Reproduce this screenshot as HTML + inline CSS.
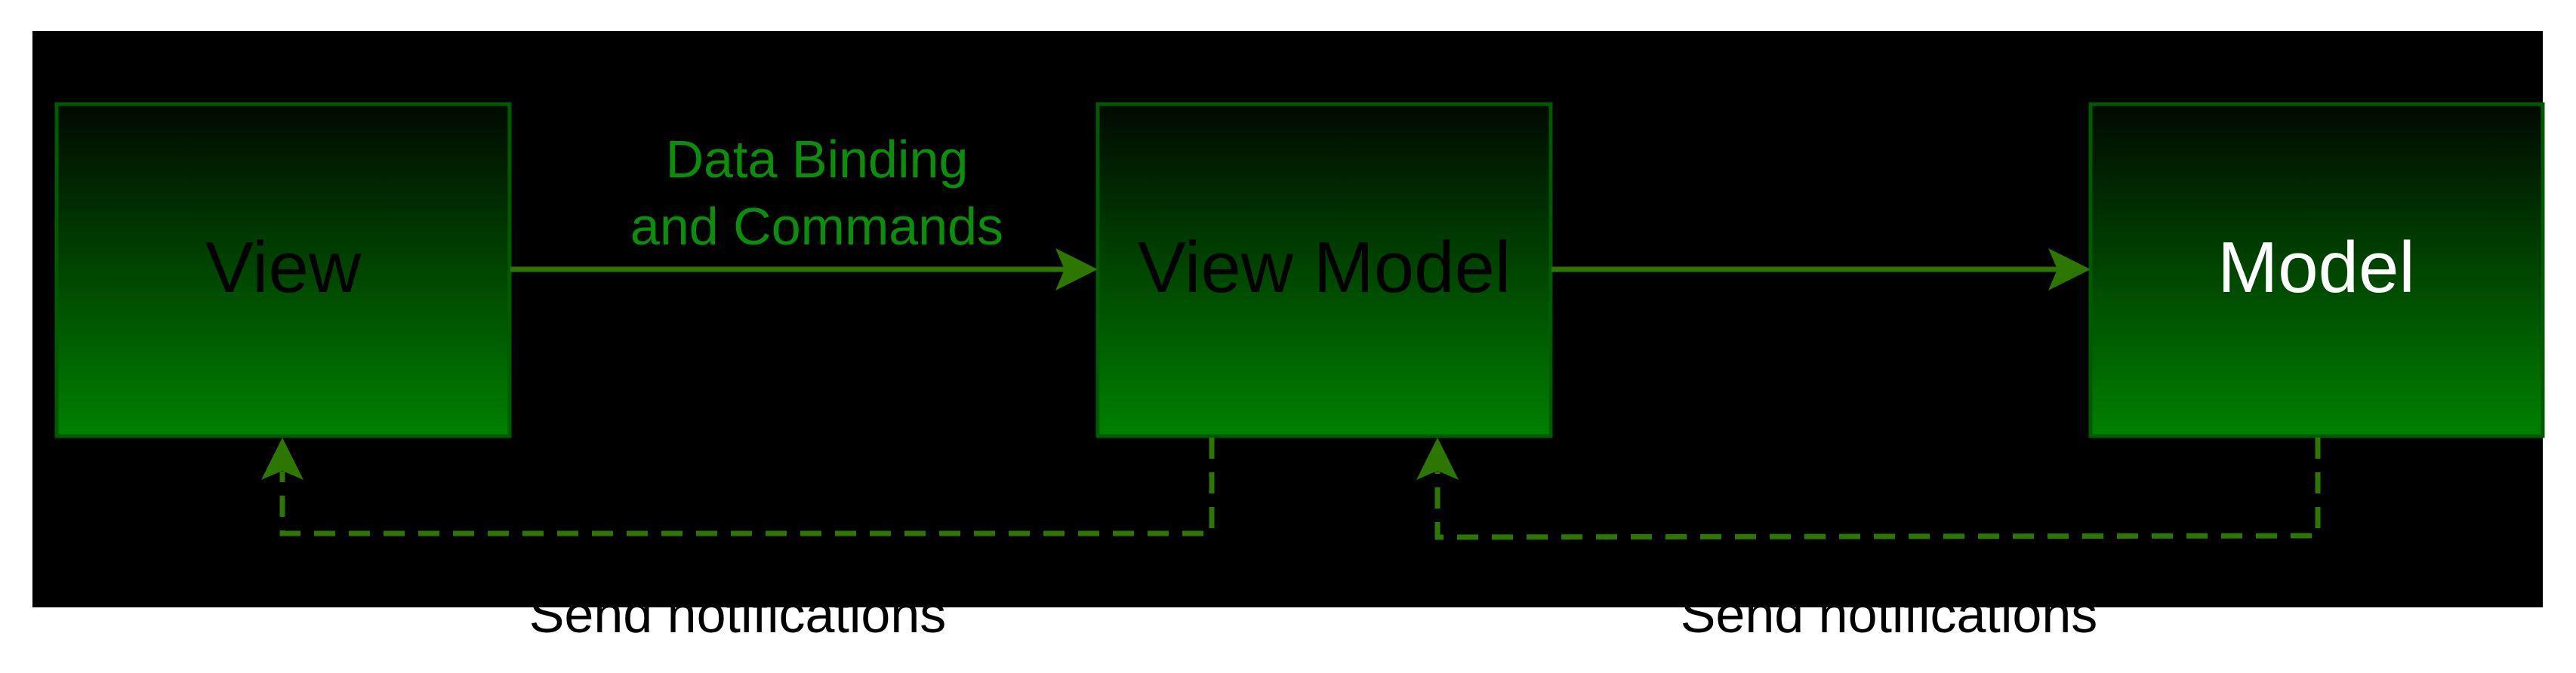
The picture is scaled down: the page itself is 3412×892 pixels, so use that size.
<!DOCTYPE html>
<html><head><meta charset="utf-8"><style>
html,body{margin:0;padding:0;background:#fff;width:3412px;height:892px;overflow:hidden}
svg{display:block}
text{font-family:"Liberation Sans",sans-serif}
</style></head><body>
<svg width="3412" height="892" viewBox="0 0 3412 892" xmlns="http://www.w3.org/2000/svg">
<defs>
<linearGradient id="g" x1="0" y1="0" x2="0" y2="1">
<stop offset="0" stop-color="#010901"/>
<stop offset="1" stop-color="#008100"/>
</linearGradient>
</defs>
<text x="977" y="838" font-size="70" text-anchor="middle" fill="#000">Send notifications</text>
<text x="2502" y="838" font-size="70" text-anchor="middle" fill="#000">Send notifications</text>
<rect x="43" y="41" width="3325" height="764" fill="#000"/>
<rect x="75" y="138" width="600" height="440" fill="url(#g)" stroke="#005a00" stroke-width="5"/>
<rect x="1454" y="138" width="600" height="440" fill="url(#g)" stroke="#005a00" stroke-width="5"/>
<rect x="2769" y="138" width="599" height="440" fill="url(#g)" stroke="#005a00" stroke-width="5"/>
<text x="375" y="387" font-size="96" text-anchor="middle" fill="#000">View</text>
<text x="1754" y="387" font-size="96" text-anchor="middle" fill="#000">View Model</text>
<text x="3068" y="387" font-size="96" text-anchor="middle" fill="#fff">Model</text>
<text x="1082" y="235" font-size="70" text-anchor="middle" fill="#0a8f0a">Data Binding</text>
<text x="1082" y="324" font-size="70" text-anchor="middle" fill="#0a8f0a">and Commands</text>
<g stroke="#2d7600" stroke-width="7" fill="none">
<line x1="676" y1="357" x2="1412" y2="357"/>
<line x1="2055" y1="357" x2="2727" y2="357"/>
<polyline points="1605,580 1605,707 374,707 374,625" stroke-dasharray="28,18"/>
<polyline points="3070,580 3070,710 1904,712 1904,625" stroke-dasharray="28,18"/>
</g>
<g fill="#2d7600">
<polygon points="1454,357 1398,329 1410,357 1398,385"/>
<polygon points="2769,357 2713,329 2725,357 2713,385"/>
<polygon points="374,580 346,636 374,624 402,636"/>
<polygon points="1904,580 1876,636 1904,624 1932,636"/>
</g>
</svg>
</body></html>
